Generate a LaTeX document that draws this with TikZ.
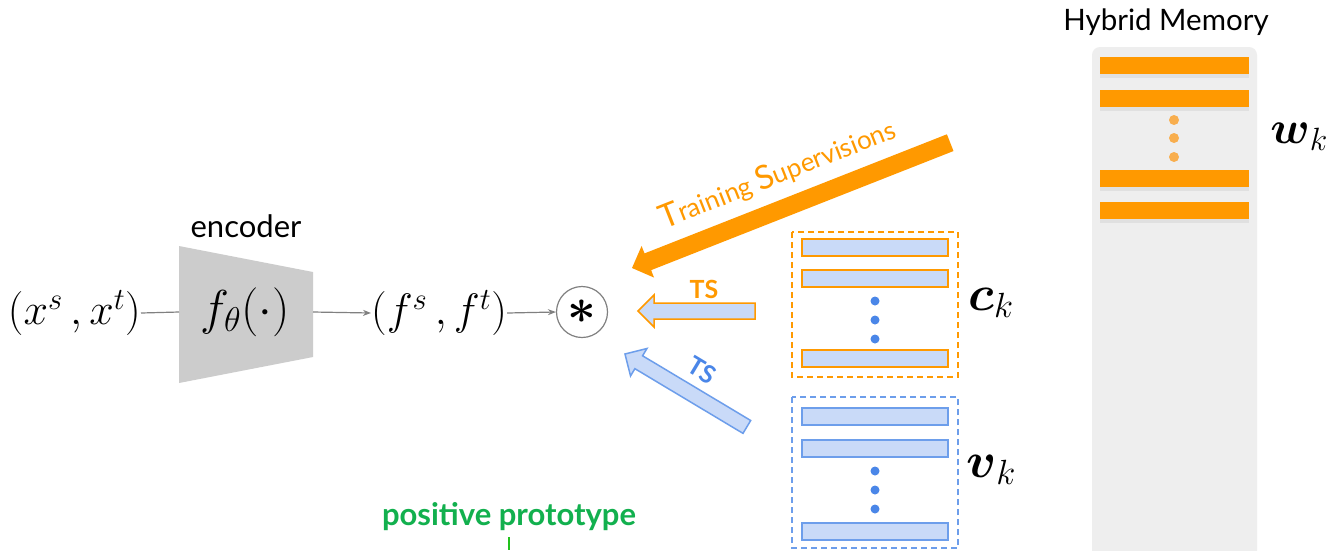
\RequirePackage{fix-cm}
\documentclass[tikz,border=0pt]{standalone}
\usepackage{amsmath}
\usepackage{fontspec}
\setmainfont{Lato}
\usetikzlibrary{arrows.meta}
\definecolor{org}{HTML}{FF9900}
\definecolor{lblue}{HTML}{C9DAF8}
\definecolor{mblue}{HTML}{6D9EEB}
\definecolor{dblue}{HTML}{4A86E8}
\definecolor{encgray}{HTML}{CCCCCC}
\definecolor{memgray}{HTML}{EEEEEE}
\definecolor{ldot}{HTML}{F8AE4E}
\definecolor{pgreen}{HTML}{12B04E}
\definecolor{tgreen}{HTML}{22C11C}
\begin{document}
\begin{tikzpicture}[x=1pt,y=-1pt,
  mathlbl/.style={inner sep=0pt,font=\fontsize{44}{50}\selectfont},
  bigmath/.style={inner sep=0pt,font=\fontsize{49}{54}\selectfont},
  txt/.style={inner sep=0pt,font=\fontsize{30}{34}\selectfont},
  conn/.style={draw=gray,line width=1.2pt},
  arr/.style={conn,-{Stealth[length=8pt,width=6pt]}},
  obar/.style={fill=lblue,draw=org,line width=1.5pt},
  bbar/.style={fill=lblue,draw=mblue,line width=1.5pt},
  mbar/.style={fill=org},
  shbar/.style={fill=black,opacity=0.06},
  bdot/.style={circle,fill=dblue,inner sep=0pt,minimum size=9pt},
  odot/.style={circle,fill=ldot,inner sep=0pt,minimum size=10pt},
  tslbl/.style={inner sep=0pt,font=\bfseries\fontsize{25}{28}\selectfont},
  dbox/.style={dash pattern=on 6pt off 4pt,line width=1.5pt}]
\clip (0,0) rectangle (1329,550);
\fill[white] (0,0) rectangle (1329,550);

% encoder
\fill[encgray] (179,246) -- (313,272) -- (313,357) -- (179,383) -- cycle;
\coordinate (encL) at (179,312);
\coordinate (encR) at (313,312);
\node[bigmath] (f) at (245,312) {$f_\theta(\cdot)$};
\node[txt,font=\fontsize{31}{34}\selectfont] (enc) at (246,226) {encoder};
\node[mathlbl,anchor=east] (x) at (141,313) {$(x^s\,, x^t)$};
\node[mathlbl,anchor=west] (fst) at (371,313) {$(f^s\,, f^t)$};
\node[circle,draw=gray,line width=1.2pt,minimum size=51pt,inner sep=0pt] (star) at (582,312)
  {\fontsize{50}{50}\selectfont$\boldsymbol{\ast}$};
\draw[conn] (x.east) -- (encL);
\draw[arr] (encR) -- (fst.west);
\draw[arr] (fst.east) -- (star.west);

% big orange arrow
\begin{scope}[shift={(632,268)},rotate=21.5]
  \fill[org] (0,0) -- (17,17) -- (17,9) -- (342,9) -- (342,-9) -- (17,-9) -- (17,-17) -- cycle;
\end{scope}
\node[rotate=21.5,text=org,inner sep=0pt,anchor=base,font=\fontsize{26}{30}\selectfont] (tsbig) at (781,183)
  {{\fontsize{33}{36}\selectfont T}raining {\fontsize{33}{36}\selectfont S}upervisions};

% orange TS arrow
\begin{scope}[shift={(638,311)}]
  \filldraw[fill=lblue,draw=org,line width=1.5pt,line join=miter] (0,0) -- (16,-16) -- (16,-8) -- (117,-8) -- (117,8) -- (16,8) -- (16,16) -- cycle;
\end{scope}
\node[tslbl,text=org] (ts1) at (704,289) {TS};

% blue TS arrow
\begin{scope}[shift={(625,354)},rotate=-30.9]
  \filldraw[fill=lblue,draw=mblue,line width=1.5pt,line join=miter] (0,0) -- (16,-16) -- (16,-7.5) -- (142,-7.5) -- (142,7.5) -- (16,7.5) -- (16,16) -- cycle;
\end{scope}
\node[tslbl,rotate=-31,text=dblue] (ts2) at (702,370) {TS};

% c_k box
\draw[org,dbox] (792,232) rectangle (958,377);
\path[obar] (802,239) rectangle (948,256);
\path[obar] (802,270) rectangle (948,287);
\path[obar] (802,350) rectangle (948,367);
\node[bdot] (cd1) at (875,301) {};
\node[bdot] (cd2) at (875,320) {};
\node[bdot] (cd3) at (875,339) {};
\node[inner sep=0pt,font=\fontsize{50}{54}\selectfont] (ck) at (991,303) {$\boldsymbol{c}_k$};

% v_k box
\draw[mblue,dbox] (792,397) rectangle (958,548);
\path[bbar] (802,408) rectangle (948,425);
\path[bbar] (802,440) rectangle (948,457);
\path[bbar] (802,523) rectangle (948,540);
\node[bdot] (vd1) at (875,471) {};
\node[bdot] (vd2) at (875,490) {};
\node[bdot] (vd3) at (875,509) {};
\node[inner sep=0pt,font=\fontsize{50}{54}\selectfont] (vk) at (991,470) {$\boldsymbol{v}_k$};

% hybrid memory
\node[txt,font=\fontsize{29.5}{33}\selectfont] (hm) at (1166,22) {Hybrid Memory};
\fill[memgray,rounded corners=8pt] (1092,47) rectangle (1257,580);
\foreach \y in {57,90,170,202}{
  \fill[shbar] (1100,\y+3) rectangle (1249,\y+21);
  \fill[mbar] (1100,\y) rectangle (1249,\y+17);
}
\node[odot] (md1) at (1174,120) {};
\node[odot] (md2) at (1174,138) {};
\node[odot] (md3) at (1174,157) {};
\node[inner sep=0pt,font=\fontsize{46}{50}\selectfont] (wk) at (1299,137) {$\boldsymbol{w}_k$};

% positive prototype
\node[text=pgreen,inner sep=0pt,font=\bfseries\fontsize{31}{34}\selectfont] (pp) at (509,517) {positive prototype};
\coordinate (tick) at (509,550);
\draw[tgreen,line width=1.5pt] (509,537) -- (tick);
\end{tikzpicture}
\end{document}
